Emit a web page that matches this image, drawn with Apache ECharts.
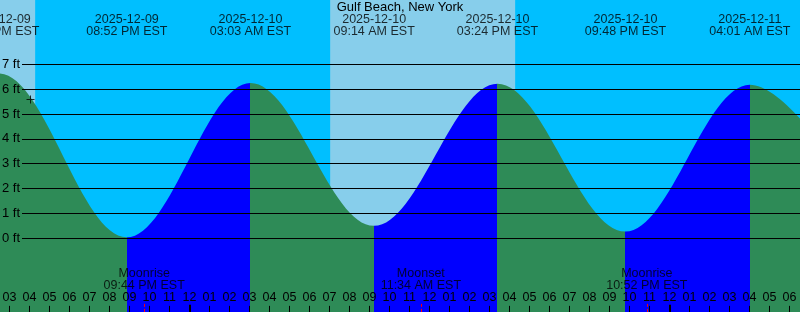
<!DOCTYPE html>
<html><head><meta charset="utf-8">
<script src="https://cdn.jsdelivr.net/npm/echarts@6/dist/echarts.min.js"></script>
<style>html,body{margin:0;padding:0;background:#00BFFF}#c{width:800px;height:312px}</style>
</head><body><div id="c"></div>
<script>
// ---------- data ----------
const stationName = 'Gulf Beach, New York';
const tideTimes   = ['2025-12-09 08:05','2025-12-09 14:28','2025-12-09 20:52','2025-12-10 03:03','2025-12-10 09:14','2025-12-10 15:24','2025-12-10 21:48','2025-12-11 04:01','2025-12-11 10:20'];
const tideHeights = [0.30, 6.63, 0.04, 6.25, 0.50, 6.22, 0.27, 6.18, 0.45];
const labeledTides = [1, 2, 3, 4, 5, 6, 7];
const dayStarts = ['2025-12-09 07:02','2025-12-10 07:02','2025-12-11 07:03'];
const dayEnds   = ['2025-12-09 16:17','2025-12-10 16:17','2025-12-11 16:18'];
const moonTimes  = ['2025-12-09 21:44','2025-12-10 11:34','2025-12-10 22:52'];
const moonEvents = ['Moonrise','Moonset','Moonrise'];
const midnightTimes = ['2025-12-10 00:00','2025-12-11 00:00'];
const nowTime = '2025-12-09 16:03';
const nowHeight = 5.58;
const hourLabels = ['03','04','05','06','07','08','09','10','11','12',
  '01','02','03','04','05','06','07','08','09','10','11','12',
  '01','02','03','04','05','06','07','08','09','10','11','12',
  '01','02','03','04','05','06'];
const firstLabelHour = -9;
const heightUnit = 'ft';
const tz = 'EST';

// ---------- helpers ----------
const REF = Date.UTC(2025, 11, 10);
function toH(s) {
  const [d, t] = s.split(' ');
  const [Y, M, D] = d.split('-').map(Number);
  const [h, m] = t.split(':').map(Number);
  return (Date.UTC(Y, M - 1, D, h, m) - REF) / 3.6e6;
}
function fmt12(s) {
  const t = s.split(' ')[1];
  let [h, m] = t.split(':').map(Number);
  const ap = h < 12 ? 'AM' : 'PM';
  h = h % 12 || 12;
  return String(h).padStart(2, '0') + ':' + String(m).padStart(2, '0') + ' ' + ap + ' ' + tz;
}

const FONT = '"Liberation Sans", Arial, sans-serif';
const GREEN = '#2E8B57', BLUE = '#0000FF', DAY = '#87CEEB', NIGHT = '#00BFFF';

const tidePoints = tideTimes.map((t, i) => [toH(t), tideHeights[i]]);
const pieces = [];
for (let i = 0; i < tidePoints.length - 1; i++) {
  const rising = tideHeights[i + 1] > tideHeights[i];
  const p = { gte: tidePoints[i][0], lt: tidePoints[i + 1][0], color: rising ? BLUE : GREEN };
  if (i === 0) delete p.gte;
  if (i === tidePoints.length - 2) delete p.lt;
  pieces.push(p);
}
const dayBands = dayStarts.map((s, i) => [{ xAxis: toH(s), itemStyle: { color: DAY } }, { xAxis: toH(dayEnds[i]) }]);

const TICK_BOTTOM = -3, TICK_TOP = -2.64;
const tickMarks = [];
midnightTimes.forEach(t => tickMarks.push([{ coord: [toH(t), TICK_BOTTOM], lineStyle: { color: '#000', width: 2 } }, { coord: [toH(t), TICK_TOP] }]));
moonTimes.forEach(t => tickMarks.push([{ coord: [toH(t), TICK_BOTTOM], lineStyle: { color: '#FF0000', width: 1 } }, { coord: [toH(t), TICK_TOP] }]));

const TIDE_LABEL_LEVEL = 8.56, MOON_LABEL_LEVEL = -1.657;

const chart = echarts.init(document.getElementById('c'), null, { renderer: 'canvas' });
chart.setOption({
  animation: false,
  backgroundColor: NIGHT,
  title: { text: stationName, left: 'center', top: 1, padding: 0,
    textStyle: { fontSize: 13, fontWeight: 'normal', color: '#000', fontFamily: FONT } },
  grid: [
    { left: -10.5, right: -9.5, top: -10.27, bottom: -0.87, containLabel: false, outerBoundsMode: 'none' },
    { left: 22, right: 0, top: 64.3, bottom: 73.7, containLabel: false, outerBoundsMode: 'none' }
  ],
  xAxis: [
    { type: 'value', gridIndex: 0, min: -10, max: 31, interval: 1, z: 10,
      axisLine: { show: false, onZero: false },
      axisTick: { show: true, inside: true, length: 7, lineStyle: { color: '#000', width: 1 } },
      axisLabel: { inside: true, margin: 9, color: '#000', fontSize: 12.5, fontFamily: FONT,
        formatter: v => hourLabels[Math.round(v) - firstLabelHour] || '' },
      splitLine: { show: false } },
    { type: 'value', gridIndex: 1, min: 0, max: 1, show: false }
  ],
  yAxis: [
    { type: 'value', gridIndex: 0, min: -3, max: 10, show: false },
    { type: 'value', gridIndex: 1, min: 0, max: 7, interval: 1, z: 10,
      axisLine: { show: false }, axisTick: { show: false },
      axisLabel: { margin: 2, color: '#000', fontSize: 13, fontFamily: FONT, formatter: v => v + ' ' + heightUnit },
      splitLine: { show: true, lineStyle: { color: '#000', width: 1 } } }
  ],
  visualMap: { type: 'piecewise', show: false, dimension: 0, seriesIndex: 1, pieces: pieces },
  series: [
    { type: 'line', xAxisIndex: 0, yAxisIndex: 0, data: [], z: 0, silent: true,
      markArea: { silent: true, data: dayBands } },
    { type: 'line', xAxisIndex: 0, yAxisIndex: 0, data: tidePoints, z: 2, silent: true,
      smooth: 0.36, smoothMonotone: 'x', showSymbol: false,
      lineStyle: { width: 0 }, areaStyle: { opacity: 1, origin: 'start' } },
    { type: 'line', xAxisIndex: 0, yAxisIndex: 0, data: [], z: 12, silent: true,
      markLine: { silent: true, symbol: ['none', 'none'], label: { show: false }, data: tickMarks } },
    { type: 'scatter', xAxisIndex: 0, yAxisIndex: 0, z: 12, silent: true, symbolSize: 1,
      itemStyle: { color: 'rgba(0,0,0,0)' },
      data: labeledTides.map(i => [toH(tideTimes[i]), TIDE_LABEL_LEVEL, i]),
      label: { show: true, position: 'inside', color: '#000', fontSize: 12.5, fontFamily: FONT, lineHeight: 12.5,
        formatter: p => tideTimes[p.value[2]].split(' ')[0] + '\n' + fmt12(tideTimes[p.value[2]]) } },
    { type: 'scatter', xAxisIndex: 0, yAxisIndex: 0, z: 12, silent: true, symbolSize: 1,
      itemStyle: { color: 'rgba(0,0,0,0)' },
      data: moonTimes.map((t, i) => [toH(t), MOON_LABEL_LEVEL, i]),
      label: { show: true, position: 'inside', color: '#000', fontSize: 12.5, fontFamily: FONT, lineHeight: 12.5,
        formatter: p => moonEvents[p.value[2]] + '\n' + fmt12(moonTimes[p.value[2]]) } },
    { type: 'scatter', xAxisIndex: 0, yAxisIndex: 0, z: 12, silent: true,
      symbol: 'path://M0,3.5H8V4.5H0Z M3.5,0H4.5V8H3.5Z', symbolSize: 8,
      itemStyle: { color: '#000' },
      data: [[toH(nowTime), nowHeight]] }
  ]
});
</script></body></html>
